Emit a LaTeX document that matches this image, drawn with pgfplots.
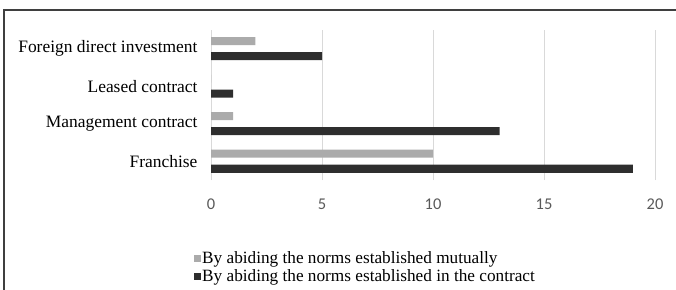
\documentclass[border=0pt]{standalone}
\usepackage{fontspec}
\setmainfont{Liberation Serif}
\newfontfamily\tickfont{Carlito}
\usepackage{pgfplots}
\pgfplotsset{compat=1.18}
\definecolor{lightbar}{HTML}{ABABAB}
\definecolor{darkbar}{HTML}{2E2E2E}
\definecolor{gridgray}{HTML}{D9D9D9}
\definecolor{tickgray}{HTML}{595959}
\definecolor{framegray}{HTML}{3F3F3F}
\begin{document}
\begin{tikzpicture}
\begin{axis}[
  at={(211bp,110bp)}, anchor=south west,
  scale only axis, width=444bp, height=150bp,
  xbar, bar width=8bp,
  xmin=0, xmax=20, ymin=0.5, ymax=4.5,
  xtick={0,5,10,15,20},
  ytick={1,2,3,4},
  yticklabels={Franchise, Management contract, Leased contract, Foreign direct investment},
  axis line style={draw=none},
  major tick length=0pt,
  xmajorgrids,
  grid style={draw=gridgray, line width=0.8bp},
  /pgf/number format/assume math mode=true,
  xticklabel style={font=\tickfont\fontsize{16.5}{16.5}\selectfont, text=tickgray, yshift=-15bp},
  yticklabel style={font=\fontsize{17.5}{20}\selectfont, text=black, xshift=-10bp},
  legend style={at={(-0.045,-0.455)}, anchor=north west, draw=none, fill=none,
    font=\fontsize{17.3}{20}\selectfont, row sep=3bp, nodes={inner sep=1bp},
    /tikz/every odd column/.append style={column sep=0bp}},
  legend cell align=left,
]
\addplot[fill=lightbar, draw=none, bar shift=7.5bp,
  legend image code/.code={\fill[lightbar] (0bp,-3.5bp) rectangle (7bp,3.5bp);}]
  coordinates {(10,1) (1,2) (0,3) (2,4)};
\addlegendentry{By abiding the norms established mutually}
\addplot[fill=darkbar, draw=none, bar shift=-7.5bp,
  legend image code/.code={\fill[darkbar] (0bp,-3.5bp) rectangle (7bp,3.5bp);}]
  coordinates {(19,1) (13,2) (1,3) (5,4)};
\addlegendentry{By abiding the norms established in the contract}
\end{axis}
\draw[line width=1.2bp, color=framegray] (4bp,0bp) -- (4bp,280bp) -- (676bp,280bp);
\pgfresetboundingbox
\useasboundingbox (0bp,0bp) rectangle (676bp,290bp);
\end{tikzpicture}
\end{document}
